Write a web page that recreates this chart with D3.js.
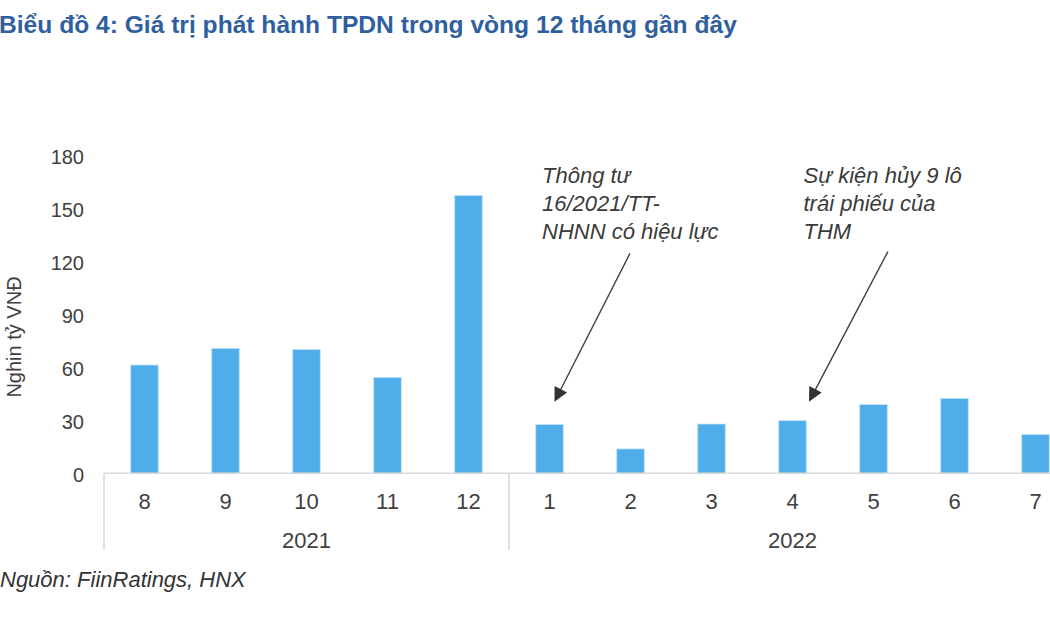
<!DOCTYPE html>
<html>
<head>
<meta charset="utf-8">
<script src="https://cdn.jsdelivr.net/npm/d3@7"></script>
<style>
  html, body { margin: 0; padding: 0; background: #ffffff; }
  svg { display: block; font-family: "Liberation Sans", Arial, sans-serif; }
</style>
</head>
<body>
<svg id="chart" width="1050" height="630"></svg>
<script>
// ---- data ----
const months = ["8", "9", "10", "11", "12", "1", "2", "3", "4", "5", "6", "7"];
const years = ["2021", "2021", "2021", "2021", "2021", "2022", "2022", "2022", "2022", "2022", "2022", "2022"];
const values = [61.3, 70.7, 70.0, 54.3, 157.3, 27.6, 13.8, 27.9, 29.8, 38.9, 42.4, 21.9];
const yTicks = [0, 30, 60, 90, 120, 150, 180];
const yearGroups = ["2021", "2022"];
const titleText = "Biểu đồ 4: Giá trị phát hành TPDN trong vòng 12 tháng gần đây";
const yAxisTitle = "Nghin tỷ VNĐ";
const sourceText = "Nguồn: FiinRatings, HNX";
const annotations = [
  { lines: ["Thông tư", "16/2021/TT-", "NHNN có hiệu lực"], key: "2022-1" },
  { lines: ["Sự kiện hủy 9 lô", "trái phiếu của", "THM"], key: "2022-4" }
];

// ---- layout ----
const svg = d3.select("#chart");
const keys = months.map((m, i) => years[i] + "-" + m);
const step = 81;
const x0 = 104;
const x = d3.scaleBand().domain(keys).range([x0, x0 + step * keys.length])
  .paddingInner(0.66).paddingOuter(0.33);
const y = d3.scaleLinear().domain([0, 180]).range([473.3, 155.3]);
const tickColor = "#404040";
const axisColor = "#d9d9d9";

// title
svg.append("text").attr("x", -1).attr("y", 33)
  .attr("font-size", 24.6).attr("font-weight", "bold").attr("fill", "#2f5f9f")
  .text(titleText);

// bars
svg.append("g").selectAll("rect").data(values).join("rect")
  .attr("x", (d, i) => x(keys[i]))
  .attr("y", d => y(d))
  .attr("width", x.bandwidth())
  .attr("height", d => y(0) - y(d))
  .attr("fill", "#4faee9")
  .attr("stroke", "#bfe2f8").attr("stroke-width", 0.8);

// y axis (labels only)
const yAxis = d3.axisLeft(y).tickValues(yTicks).tickSize(0).tickPadding(0);
const gy = svg.append("g").attr("transform", "translate(84,1.5)").call(yAxis);
gy.select(".domain").remove();
gy.selectAll("text").attr("font-size", 20).attr("fill", tickColor)
  .attr("font-family", "Liberation Sans, Arial, sans-serif");

// y axis title
svg.append("text")
  .attr("transform", "translate(21,337) rotate(-90)")
  .attr("text-anchor", "middle").attr("font-size", 20).attr("fill", tickColor)
  .text(yAxisTitle);

// x axis baseline
const yBase = y(0);
svg.append("line").attr("x1", x0).attr("x2", x0 + step * keys.length)
  .attr("y1", yBase).attr("y2", yBase).attr("stroke", axisColor).attr("stroke-width", 1.5);

// month labels
svg.append("g").selectAll("text").data(months).join("text")
  .attr("x", (d, i) => x(keys[i]) + x.bandwidth() / 2)
  .attr("y", 509)
  .attr("text-anchor", "middle").attr("font-size", 22).attr("fill", tickColor)
  .text(d => d);

// year groups
yearGroups.forEach(yr => {
  const idx = years.map((v, i) => v === yr ? i : -1).filter(i => i >= 0);
  const left = x(keys[idx[0]]) - x.step() * x.paddingInner() / 2;
  const right = x(keys[idx[idx.length - 1]]) + x.bandwidth() + x.step() * x.paddingInner() / 2;
  svg.append("line").attr("x1", left).attr("x2", left)
    .attr("y1", yBase).attr("y2", 550).attr("stroke", axisColor).attr("stroke-width", 1.5);
  svg.append("text").attr("x", (left + right) / 2).attr("y", 548)
    .attr("text-anchor", "middle").attr("font-size", 22).attr("fill", tickColor)
    .text(yr);
});

// annotations
const annLayout = [
  { tx: 542, dxTip: 5, dxStart: 80.5, startVal: 124.5 },
  { tx: 803.5, dxTip: 16.5, dxStart: 95.4, startVal: 125.5 }
];
annotations.forEach((a, k) => {
  const L = annLayout[k];
  const t = svg.append("text").attr("font-size", 22).attr("font-style", "italic").attr("fill", "#3a3a3a");
  a.lines.forEach((ln, j) => {
    t.append("tspan").attr("x", L.tx).attr("y", 183 + j * 28).text(ln);
  });
  const cx = x(a.key) + x.bandwidth() / 2;
  const tip = [cx + L.dxTip, y(40.5)];
  const start = [cx + L.dxStart, y(L.startVal)];
  const dx = tip[0] - start[0], dy = tip[1] - start[1];
  const len = Math.hypot(dx, dy);
  const ux = dx / len, uy = dy / len;
  const hl = 14, hw = 7;
  const base = [tip[0] - ux * hl, tip[1] - uy * hl];
  svg.append("line").attr("x1", start[0]).attr("y1", start[1])
    .attr("x2", base[0] + ux * 2).attr("y2", base[1] + uy * 2)
    .attr("stroke", "#404040").attr("stroke-width", 1.4);
  svg.append("path")
    .attr("d", `M${tip[0]},${tip[1]} L${base[0] - uy * hw},${base[1] + ux * hw} L${base[0] + uy * hw},${base[1] - ux * hw} Z`)
    .attr("fill", "#333333");
});

// source
svg.append("text").attr("x", 0).attr("y", 587)
  .attr("font-size", 22).attr("font-style", "italic").attr("fill", "#333333")
  .text(sourceText);
</script>
</body>
</html>
